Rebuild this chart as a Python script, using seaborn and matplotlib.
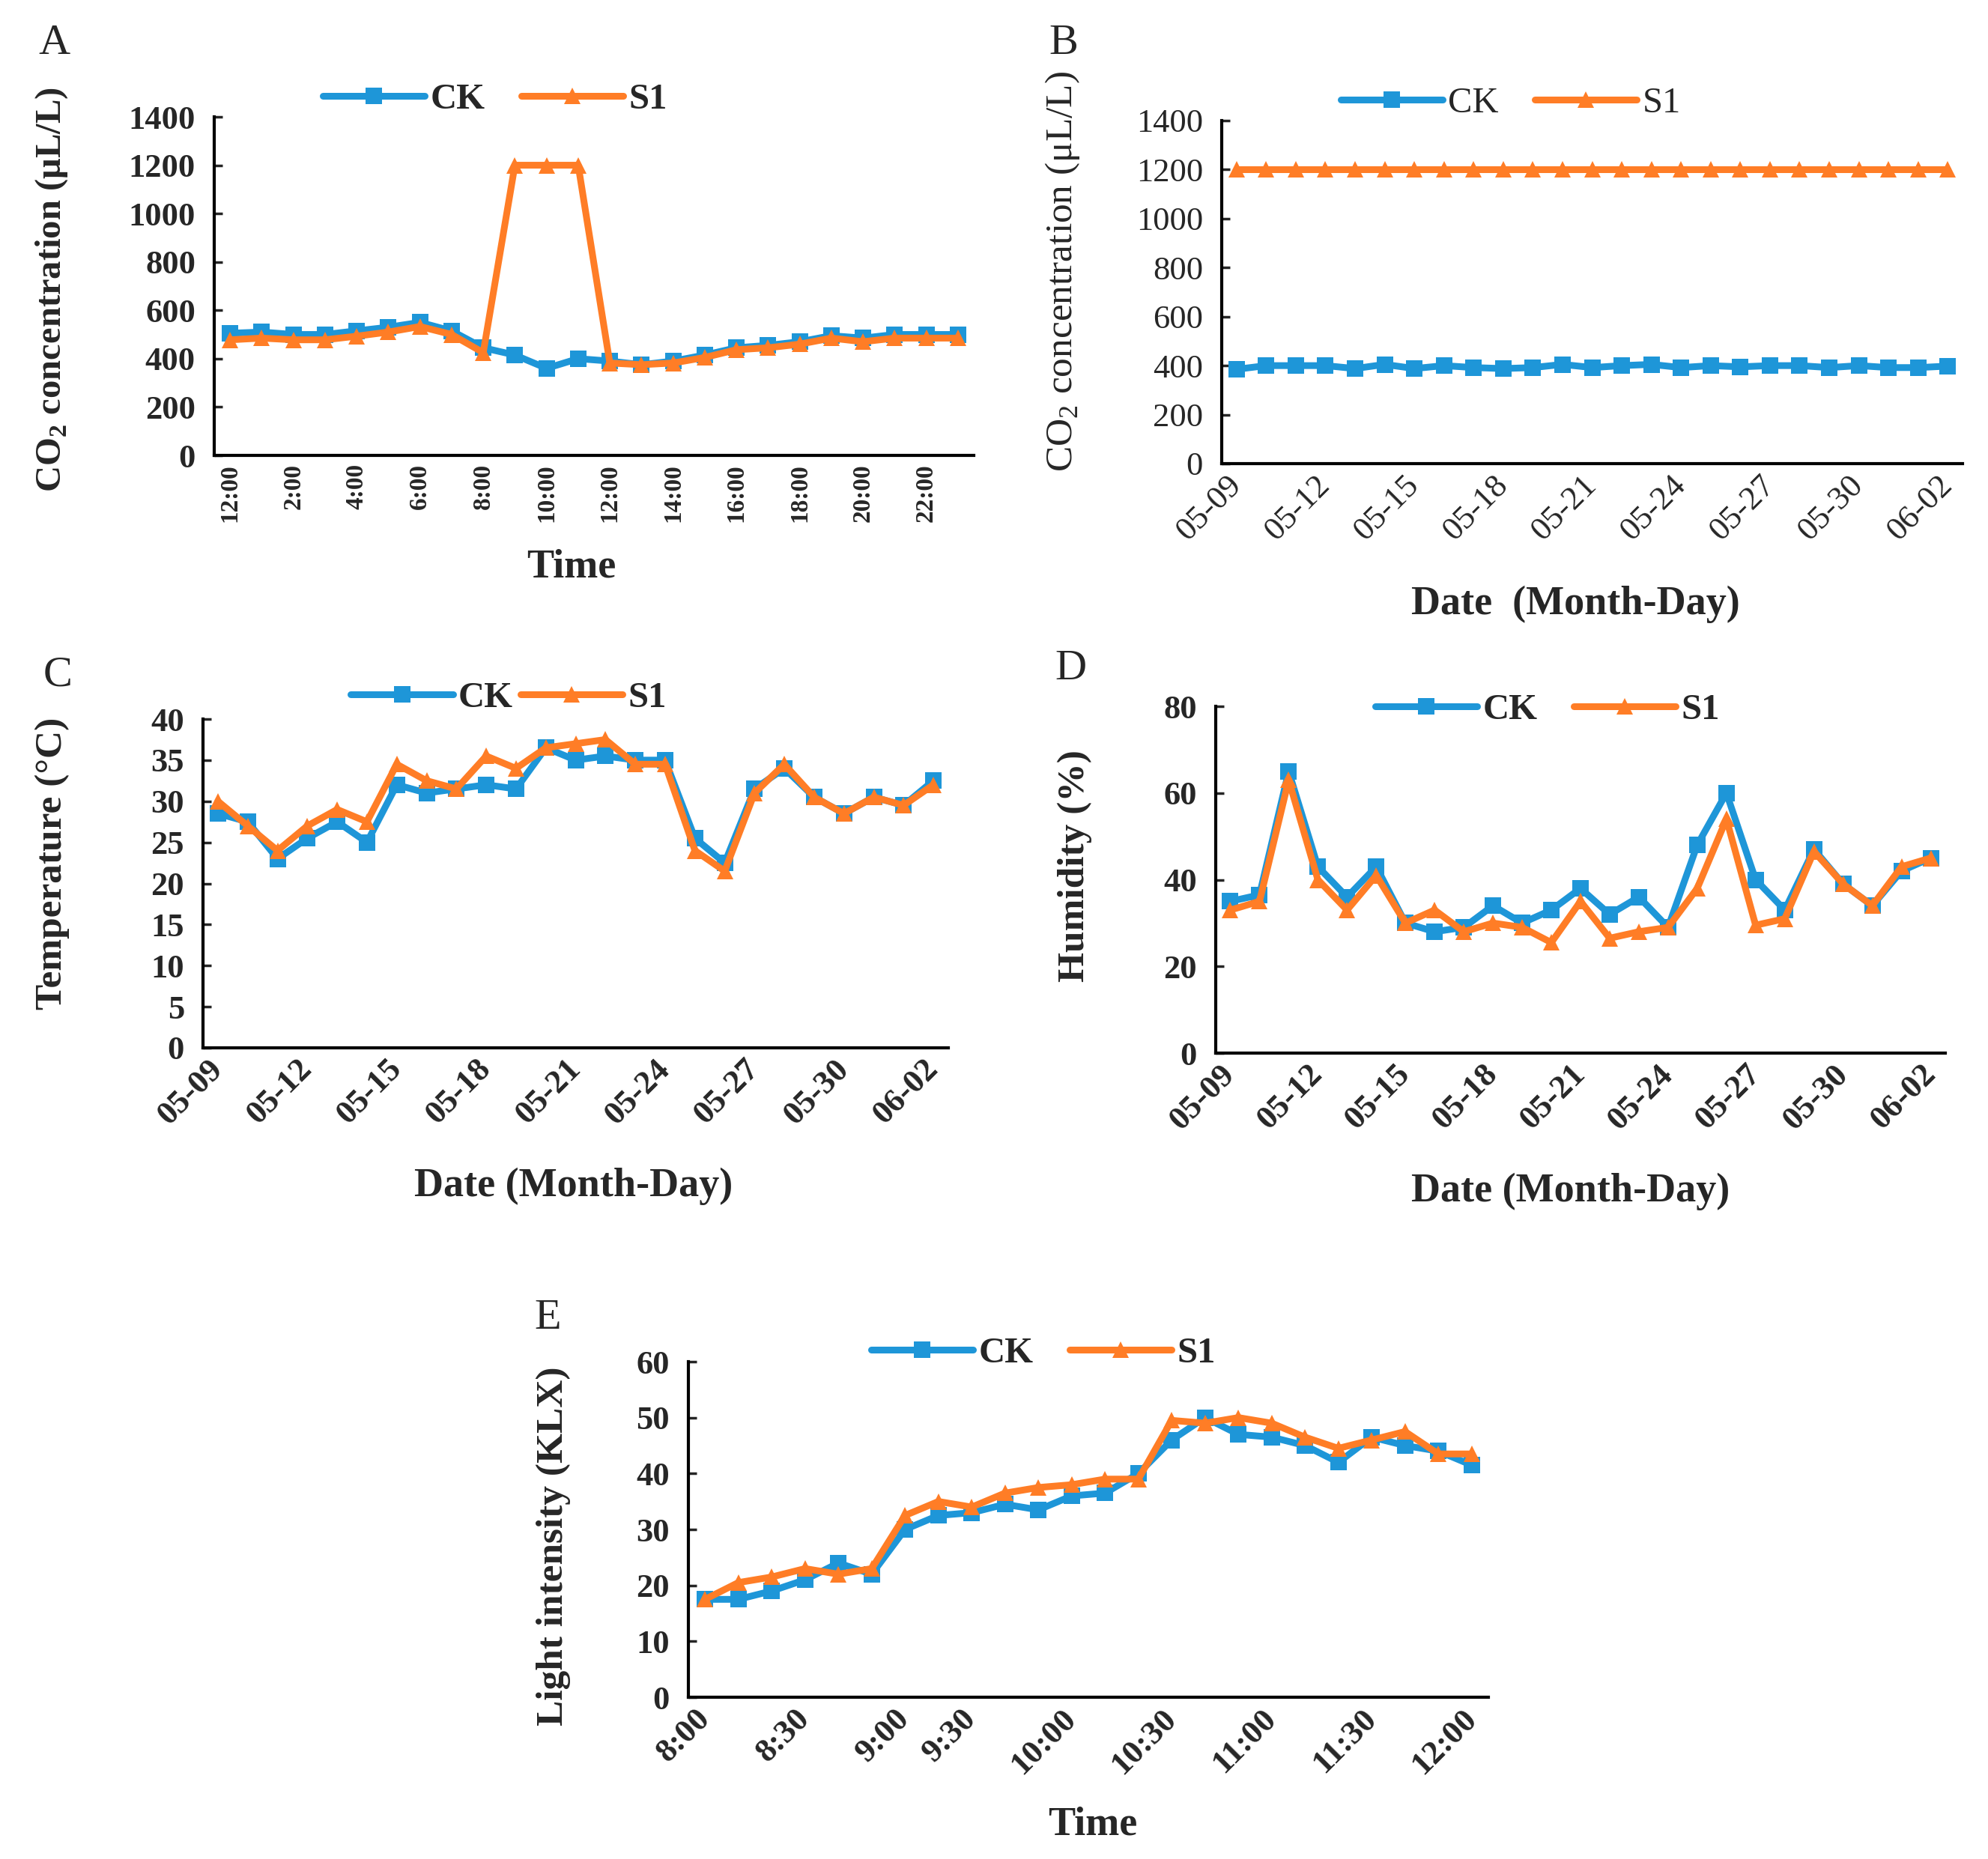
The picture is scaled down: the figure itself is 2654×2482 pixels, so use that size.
import pandas as pd
import matplotlib
matplotlib.use("Agg")
import matplotlib.pyplot as plt
import seaborn as sns

sns.set_style("white")
plt.rcParams['font.family'] = ['Liberation Serif', 'DejaVu Serif']
plt.rcParams['mathtext.fontset'] = 'custom'
plt.rcParams['mathtext.rm'] = 'Liberation Serif'
plt.rcParams['mathtext.bf'] = 'Liberation Serif:bold'

# ---- data ----
hours = ['12:00', '1:00', '2:00', '3:00', '4:00', '5:00', '6:00', '7:00', '8:00', '9:00', '10:00', '11:00',
         '12:00', '13:00', '14:00', '15:00', '16:00', '17:00', '18:00', '19:00', '20:00', '21:00', '22:00', '23:00']
a_ck = [505, 510, 500, 500, 515, 530, 550, 515, 445, 415, 360, 400,
        390, 375, 390, 415, 445, 455, 470, 495, 485, 500, 500, 500]
a_s1 = [478, 485, 478, 478, 493, 510, 533, 500, 425, 1200, 1200, 1200,
        382, 375, 382, 405, 437, 445, 460, 485, 470, 485, 485, 485]

dates = ['05-09', '05-10', '05-11', '05-12', '05-13', '05-14', '05-15', '05-16', '05-17', '05-18',
         '05-19', '05-20', '05-21', '05-22', '05-23', '05-24', '05-25', '05-26', '05-27', '05-28',
         '05-29', '05-30', '05-31', '06-01', '06-02']
b_ck = [385, 400, 400, 400, 388, 405, 388, 400, 392, 388, 392, 405, 392,
        400, 405, 392, 400, 395, 400, 400, 392, 400, 392, 392, 398]
b_s1 = [1200, 1200, 1200, 1200, 1200, 1200, 1200, 1200, 1200, 1200, 1200, 1200, 1200,
        1200, 1200, 1200, 1200, 1200, 1200, 1200, 1200, 1200, 1200, 1200, 1200]

c_ck = [28.5, 27.5, 23, 25.5, 27.5, 25, 32, 31, 31.5, 32, 31.5, 36.5, 35,
        35.5, 35, 35, 25.5, 22.5, 31.5, 34, 30.5, 28.5, 30.5, 29.5, 32.5]
c_s1 = [30, 27, 24, 27, 29, 27.5, 34.5, 32.5, 31.5, 35.5, 34, 36.5, 37,
        37.5, 34.5, 34.5, 24, 21.5, 31, 34.5, 30.5, 28.5, 30.5, 29.5, 32]

d_ck = [35, 36.5, 65, 43, 36, 43, 30, 28, 29, 34, 30, 33, 38,
        32, 36, 29, 48, 60, 40, 33, 47, 39, 34, 42, 45]
d_s1 = [33, 35, 63, 40, 33, 41, 30, 33, 28, 30, 29, 25.5, 35,
        26.5, 28, 29, 38, 54, 29.5, 31, 46.5, 39, 34, 43, 45]

times = ['8:00', '8:10', '8:20', '8:30', '8:40', '8:50', '9:00', '9:15', '9:30', '9:40', '9:50', '10:00',
         '10:10', '10:20', '10:30', '10:40', '10:50', '11:00', '11:10', '11:20', '11:30', '11:40', '11:50', '12:00']
e_ck = [17.5, 17.5, 19, 21, 24, 22, 30, 32.5, 33, 34.5, 33.5, 36,
        36.5, 40, 46, 50, 47, 46.5, 45, 42, 46.5, 45, 44, 41.5]
e_s1 = [17.5, 20.5, 21.5, 23, 22, 23, 32.5, 35, 34, 36.5, 37.5, 38,
        39, 39, 49.5, 49, 50, 49, 46.5, 44.5, 46, 47.5, 43.5, 43.5]

pal = {'CK': '#1e96d8', 'S1': '#ff7d26'}
marks = {'CK': 's', 'S1': '^'}

fig = plt.figure(figsize=(26.54, 24.82), dpi=100)


def panel(rect, ck, s1, cats, shown, yticks, ylabel, xlabel, rot, bold=True,
          leg_xy=(0.4, 1.05), colsp=1.0, ylab=(-0.2, 0.5), xlab=(0.5, -0.35), tick_fs=32, pad=16,
          ylab_fs=37):
    ax = fig.add_axes(rect)
    n = len(cats)
    df = pd.DataFrame({'pos': list(range(n)) * 2, 'value': ck + s1,
                       'series': ['CK'] * n + ['S1'] * n})
    sns.lineplot(data=df, x='pos', y='value', hue='series', style='series',
                 markers=marks, dashes=False, palette=pal, linewidth=6.5,
                 markersize=16, markeredgewidth=0, legend=False, ax=ax)
    w = 'bold' if bold else 'normal'
    ax.set_xlim(-0.5, n - 0.5)
    ax.set_ylim(yticks[0], yticks[-1])
    ax.set_yticks(yticks)
    ax.set_yticklabels([str(t) for t in yticks], fontsize=32, fontweight=w)
    ax.set_xticks(shown)
    ax.set_xticks([k - 0.5 for k in range(n + 1)], minor=True)
    if rot == 90:
        ax.set_xticklabels([cats[k] for k in shown], rotation=90, fontsize=tick_fs,
                           fontweight=w, ha='center', va='top')
    else:
        ax.set_xticklabels([cats[k] for k in shown], rotation=rot, fontsize=tick_fs,
                           fontweight=w, ha='right', va='center', rotation_mode='anchor')
    ax.tick_params(axis='x', which='major', length=0, pad=pad)
    ax.tick_params(axis='x', which='minor', direction='in', length=11, width=2.5)
    ax.tick_params(axis='y', direction='in', length=8, width=2.5, pad=18, left=True)
    for s in ['top', 'right']:
        ax.spines[s].set_visible(False)
    for s in ['left', 'bottom']:
        ax.spines[s].set_linewidth(3)
        ax.spines[s].set_color('black')
    ax.set_ylabel(ylabel, fontsize=ylab_fs, fontweight=w)
    ax.set_xlabel(xlabel, fontsize=39, fontweight='bold')
    ax.yaxis.set_label_coords(*ylab)
    ax.xaxis.set_label_coords(*xlab)
    ax.legend(handles=ax.lines[:2], labels=['CK', 'S1'], loc='center', bbox_to_anchor=leg_xy,
              ncol=2, frameon=False, handlelength=2.8, columnspacing=colsp, handletextpad=0.15,
              prop={'family': ['Liberation Serif'], 'size': 35, 'weight': w})
    return ax


W, H = 2654, 2482


def rect(x0, x1, y0, y1):
    return [x0 / W, 1 - y1 / H, (x1 - x0) / W, (y1 - y0) / H]


co2_b = r'CO$_\mathbf{2}$ concentration (μL/L)'
co2_r = r'CO$_\mathrm{2}$ concentration (μL/L)'

panel(rect(286, 1300, 156, 608), a_ck, a_s1, hours, list(range(0, 24, 2)),
      list(range(0, 1401, 200)), co2_b, 'Time', 90, leg_xy=(0.37, 1.05),
      ylab=(-0.19, 0.49), xlab=(0.47, -0.275), tick_fs=24, pad=8, ylab_fs=35)
panel(rect(1631, 2620, 161, 619), b_ck, b_s1, dates, list(range(0, 25, 3)),
      list(range(0, 1401, 200)), co2_r, 'Date  (Month-Day)', 45, bold=False,
      leg_xy=(0.39, 1.05), ylab=(-0.189, 0.56), xlab=(0.478, -0.355))
panel(rect(271, 1266, 960, 1399), c_ck, c_s1, dates, list(range(0, 25, 3)),
      list(range(0, 41, 5)), 'Temperature (°C)', 'Date (Month-Day)', 45,
      leg_xy=(0.41, 1.064), colsp=0.2, ylab=(-0.179, 0.56), xlab=(0.497, -0.363))
panel(rect(1623, 2597, 943, 1406), d_ck, d_s1, dates, list(range(0, 25, 3)),
      list(range(0, 81, 20)), 'Humidity (%)', 'Date (Month-Day)', 45,
      leg_xy=(0.455, 0.99), ylab=(-0.169, 0.54), xlab=(0.486, -0.346))
panel(rect(919, 1987, 1818, 2266), e_ck, e_s1, times, [0, 3, 6, 8, 11, 14, 17, 20, 23],
      list(range(0, 61, 10)), 'Light intensity (KLX)', 'Time', 45,
      leg_xy=(0.444, 1.025), ylab=(-0.147, 0.45), xlab=(0.505, -0.324))

for letter, x, y in [('A', 72, 58), ('B', 1420, 58), ('C', 77, 902), ('D', 1429, 893), ('E', 731, 1760)]:
    fig.text(x / W, 1 - y / H, letter, fontsize=42, ha='center', va='center')

fig.savefig('out.png', dpi=100, facecolor='white')
